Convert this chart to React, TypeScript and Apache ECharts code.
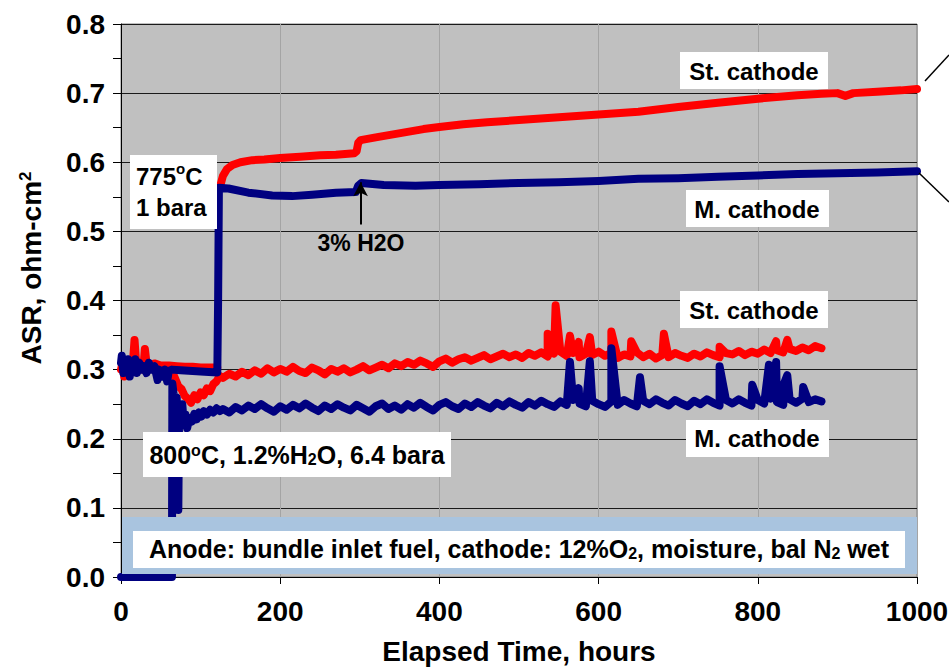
import React, { useEffect, useRef } from "react";
import * as echarts from "echarts";

const FONT = '"Liberation Sans", Arial, Helvetica, sans-serif';

// X axis / Y axis ticks
const xTicks = [0, 200, 400, 600, 800, 1000];
const yMin = 0;
const yMax = 0.8;

// Upper red (St. cathode, 1 bara) before the change
const redUpperPre: number[][] = [
  [0, 0.300], [2, 0.31], [4, 0.29], [6, 0.305], [8, 0.296], [10, 0.31], [13, 0.30],
  [15, 0.31], [17, 0.343], [19, 0.31], [22, 0.305], [25, 0.31], [28, 0.30], [30, 0.33],
  [32, 0.31], [36, 0.306], [42, 0.309], [50, 0.306], [60, 0.306], [70, 0.305],
  [80, 0.304], [90, 0.304], [100, 0.303], [110, 0.303], [121, 0.303],
];
// Upper red after switching to 775C, 1 bara
const redUpperPost: number[][] = [
  [125, 0.567], [128, 0.580], [133, 0.590], [140, 0.596], [150, 0.600], [165, 0.603],
  [180, 0.604], [200, 0.606], [225, 0.608], [250, 0.610], [270, 0.611], [293, 0.613],
  [296, 0.616], [298, 0.628], [301, 0.632], [320, 0.636], [340, 0.640], [360, 0.644],
  [380, 0.648], [400, 0.651], [430, 0.655], [460, 0.658], [500, 0.661], [550, 0.665],
  [600, 0.669], [650, 0.673], [700, 0.680], [750, 0.686], [800, 0.692], [850, 0.697],
  [880, 0.699], [900, 0.700], [910, 0.696], [920, 0.700], [950, 0.702], [980, 0.704],
  [1000, 0.706],
];
// Upper blue (M. cathode, 1 bara)
const blueUpper: number[][] = [
  [0, 0.31], [1, 0.32], [3, 0.295], [5, 0.31], [7, 0.30], [9, 0.315], [11, 0.29],
  [13, 0.31], [15, 0.30], [18, 0.315], [20, 0.295], [23, 0.31], [26, 0.30], [29, 0.305],
  [32, 0.295], [35, 0.31], [38, 0.30], [42, 0.305], [46, 0.285], [48, 0.30], [52, 0.29],
  [55, 0.30], [58, 0.283], [60, 0.298], [64, 0.300], [75, 0.299], [90, 0.298],
  [105, 0.297], [121, 0.296], [122, 0.40], [123, 0.563], [135, 0.562], [160, 0.556],
  [190, 0.552], [215, 0.551], [240, 0.553], [270, 0.556], [295, 0.557], [298, 0.566],
  [302, 0.570], [330, 0.567], [370, 0.566], [400, 0.567], [450, 0.568], [500, 0.570],
  [550, 0.571], [600, 0.573], [650, 0.576], [700, 0.577], [750, 0.579], [800, 0.581],
  [850, 0.583], [900, 0.584], [950, 0.585], [1000, 0.587],
];

// Lower red (St. cathode, 6.4 bara)
const redLowerEarly: number[][] = [
  [64, 0.298], [68, 0.287], [72, 0.276], [76, 0.272], [80, 0.262], [84, 0.258],
  [88, 0.252], [92, 0.263], [96, 0.257], [100, 0.267], [104, 0.263], [108, 0.273],
  [112, 0.269], [116, 0.279], [120, 0.283], [124, 0.291],
];
const lowerStartHour = 128;
const lowerStepHours = 8;
const redLowerMain = [
  0.288, 0.294, 0.290, 0.297, 0.292, 0.299, 0.294, 0.302, 0.296, 0.301,
  0.297, 0.304, 0.298, 0.295, 0.303, 0.299, 0.293, 0.301, 0.297, 0.302,
  0.296, 0.300, 0.305, 0.299, 0.303, 0.307, 0.302, 0.309, 0.305, 0.311,
  0.307, 0.313, 0.309, 0.304, 0.312, 0.316, 0.310, 0.315, 0.318, 0.313,
  0.317, 0.321, 0.315, 0.319, 0.323, 0.318, 0.322, 0.317, 0.324, 0.320,
  0.325, 0.319, 0.323, 0.326, 0.320, 0.324, 0.318, 0.323, 0.321, 0.326,
  0.320, 0.324, 0.317, 0.322, 0.319, 0.325, 0.318, 0.323, 0.316, 0.321,
  0.318, 0.324, 0.320, 0.317, 0.323, 0.319, 0.325, 0.321, 0.318, 0.324,
  0.322, 0.327, 0.321, 0.326, 0.323, 0.329, 0.324, 0.328, 0.325, 0.330,
  0.327, 0.332, 0.328, 0.334, 0.331,
];
const redLowerSpikes: number[][] = [
  [536, 0.352], [546, 0.393], [564, 0.349], [575, 0.340], [589, 0.347], [616, 0.355],
  [641, 0.341], [682, 0.352], [752, 0.333], [823, 0.341], [837, 0.343],
];

// Lower blue (M. cathode, 6.4 bara)
const blueLowerEarly: number[][] = [
  [0, 0.0], [64, 0.0], [64.5, 0.28], [66, 0.265], [68, 0.255], [70, 0.26], [71, 0.2],
  [72, 0.097], [73, 0.24], [75, 0.225], [77, 0.25], [79, 0.22], [81, 0.235], [83, 0.215],
  [86, 0.23], [89, 0.225], [92, 0.236], [95, 0.228], [98, 0.238], [101, 0.232],
  [104, 0.24], [108, 0.235], [112, 0.242], [116, 0.238], [120, 0.244], [124, 0.24],
];
const blueLowerMain = [
  0.243, 0.238, 0.246, 0.241, 0.248, 0.243, 0.250, 0.244, 0.239, 0.247,
  0.242, 0.249, 0.244, 0.251, 0.245, 0.240, 0.248, 0.243, 0.250, 0.245,
  0.241, 0.249, 0.244, 0.239, 0.247, 0.251, 0.243, 0.248, 0.242, 0.250,
  0.245, 0.252, 0.246, 0.241, 0.249, 0.253, 0.247, 0.243, 0.251, 0.246,
  0.253, 0.248, 0.244, 0.252, 0.247, 0.254, 0.249, 0.245, 0.253, 0.248,
  0.255, 0.250, 0.246, 0.254, 0.249, 0.256, 0.251, 0.247, 0.255, 0.250,
  0.246, 0.254, 0.249, 0.256, 0.251, 0.247, 0.255, 0.250, 0.257, 0.252,
  0.248, 0.256, 0.251, 0.247, 0.255, 0.250, 0.257, 0.252, 0.248, 0.256,
  0.251, 0.257, 0.252, 0.248, 0.256, 0.251, 0.258, 0.253, 0.249, 0.257,
  0.252, 0.258, 0.253, 0.257, 0.254,
];
const blueLowerSpikes: number[][] = [
  [564, 0.311], [575, 0.273], [589, 0.312], [616, 0.331], [652, 0.289], [752, 0.305],
  [793, 0.278], [814, 0.307], [823, 0.311], [833, 0.28], [837, 0.292], [857, 0.275],
];

// Arrow annotation ("3% H2O")
const arrowHour = 301;
const arrowFrom = 0.51;
const arrowTo = 0.571;

function buildLower(early: number[][], main: number[], spikes: number[][]) {
  const pts = [
    ...early,
    ...main.map((v, i) => [lowerStartHour + i * lowerStepHours, v]),
    ...spikes,
  ];
  return pts.sort((a, b) => a[0] - b[0]);
}

const RED = "#ff0000";
const NAVY = "#000080";

function lineSeries(name: string, data: number[][], color: string, extra: any = {}) {
  return {
    name,
    type: "line",
    data,
    showSymbol: false,
    symbol: "none",
    silent: true,
    lineStyle: { width: 8, color, cap: "round", join: "round" },
    emphasis: { disabled: true },
    ...extra,
  };
}

function box(x: number, y: number, w: number, h: number) {
  return {
    type: "rect",
    shape: { x, y, width: w, height: h },
    style: { fill: "#ffffff" },
    z: 100,
  };
}

function label(text: string, cx: number, cy: number, size: number, rich: any = undefined) {
  return {
    type: "text",
    x: cx,
    y: cy,
    z: 101,
    style: {
      text,
      fill: "#000",
      fontSize: size,
      fontWeight: "bold",
      fontFamily: FONT,
      textAlign: "center",
      textVerticalAlign: "middle",
      align: "center",
      verticalAlign: "middle",
      rich,
    },
  };
}

export default function App() {
  const ref = useRef<HTMLDivElement>(null);

  useEffect(() => {
    document.body.style.margin = "0";
    if (!ref.current) return;
    const chart = echarts.init(ref.current, undefined, { renderer: "svg" });

    const supRich = (base: number) => ({
      sup: { fontSize: Math.round(base * 0.62), fontWeight: "bold", fontFamily: FONT, verticalAlign: "top", fill: "#000" },
      sub: { fontSize: Math.round(base * 0.62), fontWeight: "bold", fontFamily: FONT, verticalAlign: "bottom", fill: "#000" },
    });

    const option: any = {
      animation: false,
      backgroundColor: "#ffffff",
      grid: {
        left: 121,
        right: 32,
        top: 24,
        bottom: 90,
        outerBoundsMode: "none",
        containLabel: false,
        show: true,
        backgroundColor: "#c0c0c0",
        borderColor: "#808080",
        borderWidth: 1,
      },
      xAxis: {
        type: "value",
        min: xTicks[0],
        max: xTicks[xTicks.length - 1],
        interval: 200,
        name: "Elapsed Time, hours",
        nameLocation: "middle",
        nameGap: 60,
        nameTextStyle: { fontSize: 28, fontWeight: "bold", color: "#000", fontFamily: FONT },
        axisLine: { show: true, onZero: false, lineStyle: { color: "#000", width: 1 } },
        axisTick: { show: true, inside: false, length: 7, lineStyle: { color: "#000" } },
        axisLabel: {
          fontSize: 28,
          fontWeight: "bold",
          color: "#000",
          fontFamily: FONT,
          margin: 20,
          formatter: (v: number) => String(v),
        },
        splitLine: { show: true, lineStyle: { color: "#a4a4a4", width: 1 } },
      },
      yAxis: {
        type: "value",
        min: yMin,
        max: yMax,
        interval: 0.1,
        axisLine: { show: true, lineStyle: { color: "#000", width: 1 } },
        axisTick: { show: true, inside: false, length: 8, lineStyle: { color: "#000" } },
        minorTick: { show: true, splitNumber: 2, length: 8, lineStyle: { color: "#000" } },
        axisLabel: {
          fontSize: 28,
          fontWeight: "bold",
          color: "#000",
          fontFamily: FONT,
          margin: 16,
          formatter: (v: number) => v.toFixed(1),
        },
        splitLine: { show: true, lineStyle: { color: "#1a1a1a", width: 1 } },
      },
      series: [
        lineSeries("St. cathode (1 bara, pre)", redUpperPre, RED),
        lineSeries("St. cathode (1 bara)", redUpperPost, RED),
        lineSeries("St. cathode (6.4 bara)", buildLower(redLowerEarly, redLowerMain, redLowerSpikes), RED),
        lineSeries("M. cathode (6.4 bara)", buildLower(blueLowerEarly, blueLowerMain, blueLowerSpikes), NAVY),
        lineSeries("M. cathode (1 bara)", blueUpper, NAVY, {
          markLine: {
            silent: true,
            animation: false,
            symbol: ["none", "arrow"],
            symbolSize: [11, 14],
            label: { show: false },
            lineStyle: { color: "#000", width: 2, type: "solid" },
            emphasis: { disabled: true },
            data: [[{ coord: [arrowHour, arrowFrom] }, { coord: [arrowHour, arrowTo] }]],
          },
        }),
      ],
      graphic: [
        // y axis title
        {
          type: "text",
          x: 31,
          y: 268,
          rotation: Math.PI / 2,
          z: 101,
          style: {
            text: "ASR, ohm-cm{sup|2}",
            fill: "#000",
            fontSize: 28,
            fontWeight: "bold",
            fontFamily: FONT,
            textAlign: "center",
            textVerticalAlign: "middle",
            align: "center",
            verticalAlign: "middle",
            rich: {
              sup: { fontSize: 17, fontWeight: "bold", fontFamily: FONT, verticalAlign: "top", fill: "#000" },
            },
          },
        },
        // bottom condition box
        { type: "rect", shape: { x: 122, y: 517, width: 795, height: 57 }, style: { fill: "#a9c4df" }, z: 99 },
        box(133, 531, 772, 37),
        label(
          "Anode: bundle inlet fuel, cathode: 12%O{sub|2}, moisture, bal N{sub|2} wet",
          519, 549, 25, supRich(25)
        ),
        // 775C box
        box(130, 155, 87, 74),
        {
          type: "text",
          x: 136,
          y: 161,
          z: 101,
          style: {
            text: "775{sup|o}C\n1 bara",
            fill: "#000",
            fontSize: 24,
            fontWeight: "bold",
            fontFamily: FONT,
            lineHeight: 31,
            textAlign: "left",
            textVerticalAlign: "top",
            align: "left",
            verticalAlign: "top",
            rich: {
              sup: { fontSize: 15, fontWeight: "bold", fontFamily: FONT, verticalAlign: "top", fill: "#000", lineHeight: 31 },
            },
          },
        },
        // 800C box
        box(143, 432, 308, 45),
        label("800{sup|o}C, 1.2%H{sub|2}O, 6.4 bara", 297, 455, 25, supRich(25)),
        // 3% H2O
        label("3% H2O", 361, 243, 23),
        // series labels
        box(680, 52, 148, 37),
        label("St. cathode", 754, 71, 24),
        box(686, 190, 143, 37),
        label("M. cathode", 757, 209, 24),
        box(680, 291, 148, 37),
        label("St. cathode", 754, 310, 24),
        box(686, 420, 143, 37),
        label("M. cathode", 757, 438, 24),
        // leader lines going off to the right
        { type: "line", shape: { x1: 925, y1: 81, x2: 949, y2: 55 }, style: { stroke: "#000", lineWidth: 1.5 }, z: 101 },
        { type: "line", shape: { x1: 919, y1: 173, x2: 949, y2: 202 }, style: { stroke: "#000", lineWidth: 1.5 }, z: 101 },
      ],
    };

    chart.setOption(option);
    return () => chart.dispose();
  }, []);

  return (
    <div
      ref={ref}
      style={{ position: "fixed", left: 0, top: 0, width: 949, height: 667, background: "#fff" }}
    />
  );
}
